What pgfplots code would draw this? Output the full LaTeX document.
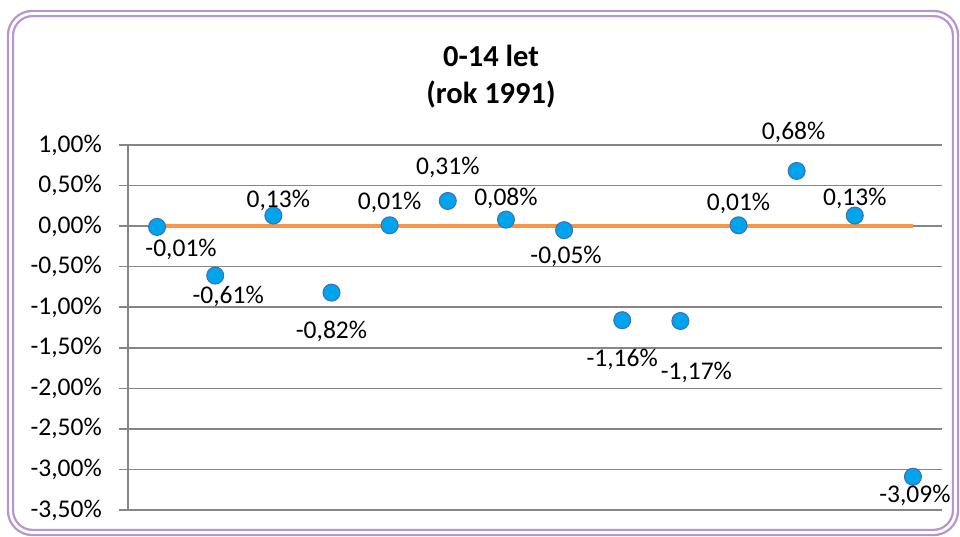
\documentclass[border=0pt]{standalone}
\usepackage{pgfplots}
\pgfplotsset{compat=1.18}
\usepackage{fontspec}
\setmainfont{Carlito}
\definecolor{borderpurple}{RGB}{180,150,212}
\definecolor{gridgray}{RGB}{134,134,134}
\definecolor{markfill}{RGB}{0,164,234}
\definecolor{markedge}{RGB}{60,110,190}
\definecolor{lineorange}{RGB}{247,150,70}
\begin{document}
\begin{tikzpicture}
\useasboundingbox (0pt,0pt) rectangle (960pt,537pt);
\draw[draw=borderpurple, line width=2.3pt, double=white, double distance=2.8pt, rounded corners=22pt]
  (10.5pt,4.5pt) rectangle (955.5pt,523.5pt);
\node[anchor=base, font=\fontsize{30.5}{37}\selectfont\bfseries] at (491pt,470pt) {0-14 let};
\node[anchor=base, font=\fontsize{30.5}{37}\selectfont\bfseries] at (491pt,433pt) {(rok 1991)};
\begin{axis}[
  at={(128pt,27pt)}, anchor=south west,
  scale only axis, width=814pt, height=365pt,
  xmin=0.5, xmax=14.5, ymin=-3.5, ymax=1,
  axis lines*=left,
  axis line style={gridgray, line width=1.5pt},
  x axis line style={draw=none},
  xtick=\empty,
  ytick={-3.5,-3,-2.5,-2,-1.5,-1,-0.5,0,0.5,1},
  yticklabels={{-3,50\%},{-3,00\%},{-2,50\%},{-2,00\%},{-1,50\%},{-1,00\%},{-0,50\%},{0,00\%},{0,50\%},{1,00\%}},
  tick align=outside,
  major tick length=9pt,
  ytick style={gridgray, line width=1.5pt},
  ymajorgrids,
  grid style={gridgray, line width=1.5pt},
  yticklabel style={font=\fontsize{25.5}{30}\selectfont, anchor=east, inner sep=0pt, xshift=-17pt},
  clip=false,
]
\addplot[lineorange, line width=4.5pt] coordinates {
  (1,0) (2,0) (3,0) (4,0) (5,0) (6,0) (7,0) (8,0) (9,0) (10,0) (11,0) (12,0) (13,0) (14,0)
};
\addplot[only marks, mark=*, mark size=8.5pt,
  mark options={fill=markfill, draw=markedge, line width=1pt},
  point meta=explicit symbolic,
  visualization depends on={\thisrow{dx} \as \dx},
  visualization depends on={\thisrow{dy} \as \dy},
  nodes near coords={\pgfplotspointmeta\%},
  nodes near coords style={anchor=center, inner sep=0pt, xshift=\dx pt, yshift=\dy pt,
    font=\fontsize{25.5}{30}\selectfont, text=black},
] table[x=x, y=y, meta=lab] {
x y dx dy lab
1 -0.01 24 -23 -0,01
2 -0.61 13 -21 -0,61
3 0.13 5 15 0,13
4 -0.82 0 -39 -0,82
5 0.01 0 23 0,01
6 0.31 0 34 0,31
7 0.08 0 21 0,08
8 -0.05 2 -26 -0,05
9 -1.16 0 -39 -1,16
10 -1.17 16 -51 -1,17
11 0.01 0 22 0,01
12 0.68 -3 39 0,68
13 0.13 0 17 0,13
14 -3.09 2 -19 -3,09
};
\end{axis}
\end{tikzpicture}
\end{document}
